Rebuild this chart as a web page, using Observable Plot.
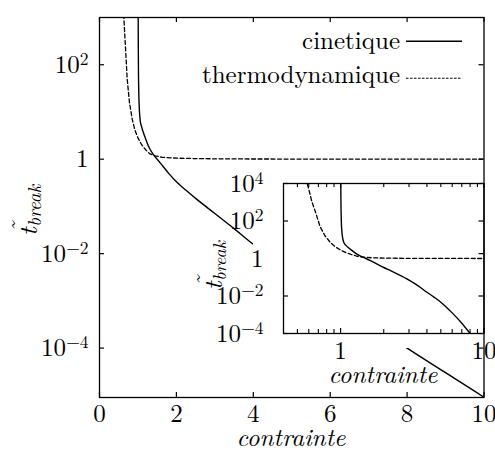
<!DOCTYPE html>
<html><head><meta charset="utf-8">
<script src="https://cdn.jsdelivr.net/npm/d3@7"></script>
<script src="https://cdn.jsdelivr.net/npm/@observablehq/plot@0.6"></script>
<style>
html,body{margin:0;padding:0;background:#fff;}
#wrap{position:relative;width:495px;height:450px;overflow:hidden;background:#fff;}
#main{position:absolute;left:0;top:0;}
#cover{position:absolute;left:253px;top:165px;width:224px;height:183px;background:#fff;}
#inset{position:absolute;left:190px;top:165px;}
svg{overflow:visible;}
svg text, svg tspan{font-family:"Latin Modern Roman","Liberation Serif",serif !important;}
</style></head><body>
<div id="wrap"><div id="main"></div><div id="cover"></div><div id="inset"></div></div>
<script>
// ---- data ----
const seriesNames = ["cinetique", "thermodynamique"];
const cinX = [1.002, 1.006, 1.012, 1.02, 1.03, 1.04, 1.06, 1.09, 1.13, 1.2, 1.3, 1.4, 1.5, 1.6, 1.8, 2.0, 2.25, 2.5, 3.0, 3.5, 4.0, 4.5, 5.0, 6.0, 7.0, 8.0, 9.0, 10.0];
const cinY = [3e4, 1e3, 100, 30, 15, 10, 6.5, 5.0, 3.9, 2.7, 1.70, 1.26, 1.0, 0.794, 0.501, 0.331, 0.219, 0.148, 0.0708, 0.0339, 0.0158, 0.00851, 0.00468, 0.00126, 3.55e-4, 1e-4, 3.02e-5, 9.12e-6];
const thermoX = [0.57, 0.6, 0.63, 0.67, 0.72, 0.78, 0.85, 0.92, 1.0, 1.1, 1.2, 1.3, 1.45, 1.63, 2.0, 2.5, 3.0, 4.0, 6.0, 10.0];
const thermoY = [2e4, 5012, 1122, 282, 50.1, 15.8, 7.08, 4.17, 2.82, 2.0, 1.585, 1.318, 1.175, 1.096, 1.052, 1.030, 1.019, 1.009, 1.005, 1.002];

const xTicksMain = [0, 2, 4, 6, 8, 10];
const yTicksMain = [1e-4, 1e-2, 1, 1e2];
const yTickLabelsMain = ["10^-4", "10^-2", "1", "10^2"];
const xTicksInset = [1, 10];
const xTickLabelsInset = ["1", "10"];
const xMinorInset = [0.5, 0.6, 0.7, 0.8, 0.9, 2, 3, 4, 5, 6, 7, 8, 9];
const yTicksInset = [1e-4, 1e-2, 1, 1e2, 1e4];
const yTickMarksInset = [1e-4, 1e-2, 1e2, 1e4];
const yTickLabelsInset = ["10^-4", "10^-2", "1", "10^2", "10^4"];
const xTitle = "contrainte";
const yTitleMain = "t";
const yTitleAccent = "\u02DC";
const yTitleSub = "break";

const cin = cinX.map((x, i) => ({x, y: cinY[i]}));
const thermo = thermoX.map((x, i) => ({x, y: thermoY[i]}));

const FONT = "Latin Modern Roman, Liberation Serif, serif";

function supify(svgEl) {
  d3.select(svgEl).selectAll("text").each(function () {
    const t = this.textContent;
    if (t.includes("^")) {
      const [base, exp] = t.split("^");
      const sel = d3.select(this);
      sel.text(base);
      sel.append("tspan").attr("dy", "-0.45em").attr("font-size", "17.5px").text(exp.replace("-", "\u2212"));
    }
  });
}

function yLabel(s, bx, by, subSize) {
  const g = s.append("g").attr("transform", `translate(${bx},${by}) rotate(-90)`)
    .attr("font-style", "italic").attr("fill", "#000").attr("text-anchor", "start");
  const t = g.append("text").attr("font-size", 26).attr("text-anchor", "start");
  t.append("tspan").text(yTitleMain);
  t.append("tspan").attr("font-size", subSize).attr("dy", 4).attr("dx", 0.5).text(yTitleSub);
  g.append("text").attr("font-size", 26).attr("text-anchor", "start").attr("x", 1).attr("y", -8).text(yTitleAccent);
}

// ---- main plot ----
const W = 495, H = 450;
const mT = 17, mR = 11.5, mB = 53, mL = 99;
const ph = H - mT - mB, pw = W - mL - mR;
const mainSvg = Plot.plot({
  width: W, height: H,
  marginTop: mT, marginRight: mR, marginBottom: mB, marginLeft: mL,
  style: {fontFamily: FONT, fontSize: "25px", background: "white", color: "black", overflow: "visible"},
  x: {domain: [0, 10]},
  y: {type: "log", domain: [9e-6, 1e3]},
  marks: [
    Plot.line(cin, {x: "x", y: "y", stroke: "#000", strokeWidth: 1.4, curve: "monotone-x", clip: true}),
    Plot.line(thermo, {x: "x", y: "y", stroke: "#000", strokeWidth: 1.3, strokeDasharray: "4,2.5", clip: true}),
    Plot.tickX(xTicksMain, {x: d => d, insetTop: ph - 5, stroke: "#000", strokeWidth: 1.2}),
    Plot.tickX(xTicksMain, {x: d => d, insetBottom: ph - 5, stroke: "#000", strokeWidth: 1.2}),
    Plot.tickY(yTicksMain, {y: d => d, insetRight: pw - 5, stroke: "#000", strokeWidth: 1.2}),
    Plot.tickY(yTicksMain, {y: d => d, insetLeft: pw - 5, stroke: "#000", strokeWidth: 1.2}),
    Plot.axisX({ticks: xTicksMain, tickSize: 0, tickPadding: 7, tickFormat: d => String(d), label: null, fill: "#000"}),
    Plot.axisY({ticks: yTicksMain, tickSize: 0, tickPadding: 11, tickFormat: d => yTickLabelsMain[yTicksMain.indexOf(d)], label: null, fill: "#000"}),
    Plot.frame({stroke: "#000", strokeWidth: 1.3})
  ]
});
supify(mainSvg);
{
  const s = d3.select(mainSvg);
  s.append("text").attr("x", 291).attr("y", 446).attr("text-anchor", "middle")
    .attr("font-size", 25).attr("font-style", "italic").attr("fill", "#000").text(xTitle);
  yLabel(s, 37, 236, 19);
  const lg = s.append("g").attr("font-size", 25).attr("fill", "#000");
  const ly = [49, 83], lsy = [41.3, 78.3];
  seriesNames.forEach((name, i) => {
    lg.append("text").attr("x", 400).attr("y", ly[i]).attr("text-anchor", "end").text(name);
    lg.append("line").attr("x1", 406).attr("x2", 462).attr("y1", lsy[i]).attr("y2", lsy[i])
      .attr("stroke", "#000").attr("stroke-width", i === 0 ? 1.4 : 1.1)
      .attr("stroke-dasharray", i === 0 ? null : "2.5,1.5");
  });
}
document.getElementById("main").appendChild(mainSvg);

// ---- inset plot ----
const IW = 305, IH = 230;
const iT = 18, iR = 11.5, iB = 62, iL = 93;
const iph = IH - iT - iB, ipw = IW - iL - iR;
const insetSvg = Plot.plot({
  width: IW, height: IH,
  marginTop: iT, marginRight: iR, marginBottom: iB, marginLeft: iL,
  style: {fontFamily: FONT, fontSize: "25px", background: "transparent", color: "black", overflow: "visible"},
  x: {type: "log", domain: [0.4, 10]},
  y: {type: "log", domain: [1e-4, 1e4]},
  marks: [
    Plot.line(cin, {x: "x", y: "y", stroke: "#000", strokeWidth: 1.4, curve: "monotone-x", clip: true}),
    Plot.line(thermo, {x: "x", y: "y", stroke: "#000", strokeWidth: 1.3, strokeDasharray: "4,2.5", clip: true}),
    Plot.tickX(xTicksInset, {x: d => d, insetTop: iph - 5, stroke: "#000", strokeWidth: 1.2}),
    Plot.tickX(xTicksInset, {x: d => d, insetBottom: iph - 5, stroke: "#000", strokeWidth: 1.2}),
    Plot.tickX(xMinorInset, {x: d => d, insetTop: iph - 4, stroke: "#000", strokeWidth: 1.1}),
    Plot.tickX(xMinorInset, {x: d => d, insetBottom: iph - 4, stroke: "#000", strokeWidth: 1.1}),
    Plot.tickY(yTickMarksInset, {y: d => d, insetRight: ipw - 5, stroke: "#000", strokeWidth: 1.2}),
    Plot.tickY(yTickMarksInset, {y: d => d, insetLeft: ipw - 5, stroke: "#000", strokeWidth: 1.2}),
    Plot.axisX({ticks: xTicksInset, tickSize: 0, tickPadding: 7.5, tickFormat: d => xTickLabelsInset[xTicksInset.indexOf(d)], label: null, fill: "#000"}),
    Plot.axisY({ticks: yTicksInset, tickSize: 0, tickPadding: 20, tickFormat: d => yTickLabelsInset[yTicksInset.indexOf(d)], label: null, fill: "#000"}),
    Plot.frame({stroke: "#000", strokeWidth: 1.3})
  ]
});
supify(insetSvg);
{
  const s = d3.select(insetSvg);
  s.append("text").attr("x", 383 - 190).attr("y", 383 - 165).attr("text-anchor", "middle")
    .attr("font-size", 25).attr("font-style", "italic").attr("fill", "#000").text(xTitle);
  yLabel(s, 222 - 190, 290 - 165, 18);
}
document.getElementById("inset").appendChild(insetSvg);
</script>
</body></html>
